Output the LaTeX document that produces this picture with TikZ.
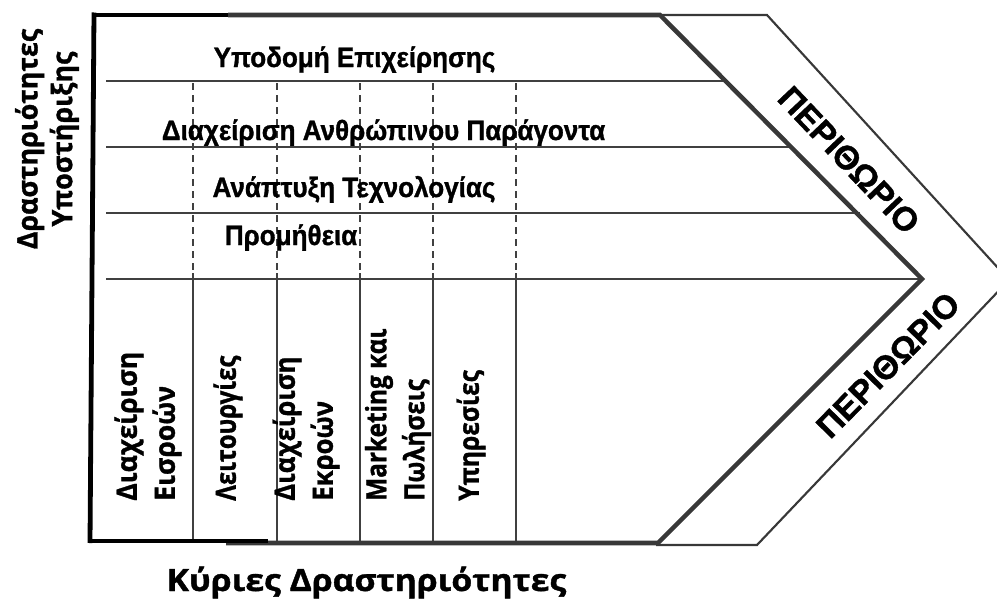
\documentclass[tikz,border=0pt]{standalone}
\usepackage{fontspec}
\setmainfont{Liberation Sans}[BoldFeatures={FakeBold=1.2}]
\newfontfamily\opensans{Open Sans}[BoldFeatures={FakeBold=1.2}]
\definecolor{edgegray}{RGB}{56,56,56}
\definecolor{rulegray}{RGB}{64,64,64}
\tikzset{
  heavyblack/.style={line width=3.6pt, black, line cap=butt},
  heavygray/.style={line width=3.4pt, edgegray, line join=miter, line cap=butt},
  marginedge/.style={line width=1.6pt, edgegray, line join=miter},
  rowrule/.style={line width=1.1pt, rulegray},
  colrule/.style={line width=1pt, rulegray},
  coldash/.style={line width=1pt, rulegray, dash pattern=on 5pt off 4pt},
  supportlabel/.style={font=\fontsize{21}{25}\selectfont\bfseries, inner sep=0pt, anchor=base, xscale=0.93},
  marginlabel/.style={font=\fontsize{25}{28}\selectfont\bfseries, inner sep=0pt},
  primarylabel/.style={font=\opensans\fontsize{21}{28.5}\selectfont\bfseries, inner sep=0pt,
    rotate=90, anchor=west, align=left},
  axislabel/.style={font=\opensans\fontsize{21}{26}\selectfont\bfseries, inner sep=0pt, align=center}
}
\begin{document}
\begin{tikzpicture}[x=0.75pt,y=-0.75pt]
\useasboundingbox (0,0) rectangle (997,600);
\clip (0,0) rectangle (997,600);

% key points of the chevron
\coordinate (tl) at (94,15);
\coordinate (bl) at (90,541);
\coordinate (tin) at (660,15);
\coordinate (tip) at (922,279);
\coordinate (bin) at (658,543);
\coordinate (tout) at (767,15);
\coordinate (outtip) at (1009,280);
\coordinate (bout) at (757,545);

% outer margin band
\draw[marginedge] (tin) -- (tout) -- (outtip) -- (bout) -- (656,545);

% row separators of the support activities
\foreach \y/\xr in {81/726.5, 147/793, 213/859.5}
  \draw[rowrule] (106,\y) -- (\xr,\y);
\draw[rowrule] (106,279) -- (tip);

% column separators: dashed through support rows, solid through primary area
\foreach \x in {193,277,360,433,516} {
  \draw[coldash] (\x,83) -- (\x,279);
  \draw[colrule] (\x,273) -- (\x,541);
}

% heavy outline
\draw[heavygray] (228,15) -- (tin) -- (tip) -- (bin) -- (226,543);
\draw[heavyblack] (tl |- 0,12.5) -- (bl |- 0,543);
\draw[heavyblack] (92,15) -- (228,15);
\draw[heavyblack] (88,541) -- (268,541);

% support activities
\node[supportlabel] (infra) at (354.5,67) {Υποδομή Επιχείρησης};
\node[supportlabel] (hrm) at (383.5,140) {Διαχείριση Ανθρώπινου Παράγοντα};
\node[supportlabel] (tech) at (354,197) {Ανάπτυξη Τεχνολογίας};
\node[supportlabel] (proc) at (291,245) {Προμήθεια};

% margin labels
\node[marginlabel, rotate=-46.5] (marginup) at (849,160) {ΠΕΡΙΘΩΡΙΟ};
\node[marginlabel, rotate=45.5] (margindown) at (888,365) {ΠΕΡΙΘΩΡΙΟ};

% primary activities
\node[primarylabel, xscale=0.95] (inbound) at (148,501) {Διαχείριση\\Εισροών};
\node[primarylabel, xscale=0.86] (ops) at (228,501) {Λειτουργίες};
\node[primarylabel, xscale=0.92] (outbound) at (306,501) {Διαχείριση\\Εκροών};
\node[primarylabel, xscale=0.87] (sales) at (398,501) {Marketing και\\Πωλήσεις};
\node[primarylabel, xscale=0.88] (service) at (471,501) {Υπηρεσίες};

% axis titles
\node[axislabel, rotate=90, xscale=0.96] (support) at (47,139) {Δραστηριότητες\\Υποστήριξης};
\node[axislabel, anchor=base, font=\opensans\fontsize{23}{28}\selectfont\bfseries, xscale=1.1] (primary) at (366.5,591) {Κύριες Δραστηριότητες};
\end{tikzpicture}
\end{document}
